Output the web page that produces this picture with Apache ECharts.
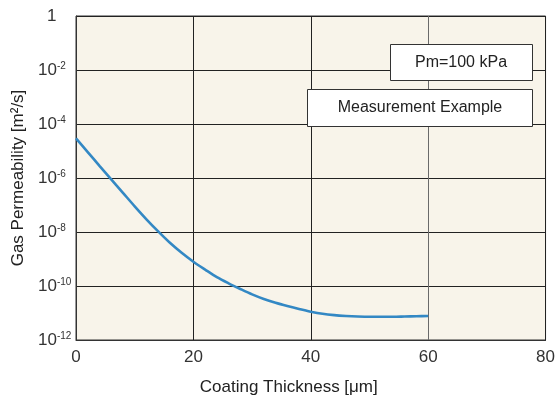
<!DOCTYPE html>
<html><head><meta charset="utf-8">
<script src="https://cdn.jsdelivr.net/npm/echarts@6/dist/echarts.min.js"></script>
<style>html,body{margin:0;padding:0;background:#fff}#c{width:558px;height:401px}</style>
</head><body><div id="c"></div>
<script>
// Coating thickness [µm]
const thickness = [0,2,4,6,8,10,12,14,16,18,20,22,24,26,28,30,32,34,36,38,40,42,44,46,48,50,52,54,56,58,60];
// Gas permeability [m²/s]
const permeability = [2.95e-5,9.12e-6,2.82e-6,8.91e-7,2.82e-7,8.91e-8,2.95e-8,1.05e-8,3.98e-9,1.70e-9,7.94e-10,4.07e-10,2.14e-10,1.26e-10,7.76e-11,4.90e-11,3.31e-11,2.40e-11,1.82e-11,1.41e-11,1.12e-11,9.33e-12,8.32e-12,7.76e-12,7.41e-12,7.24e-12,7.24e-12,7.24e-12,7.41e-12,7.59e-12,7.76e-12];
const xTicks = [0,20,40,60,80];
const yTickExponents = [0,-2,-4,-6,-8,-10,-12];
const annotations = ['Pm=100 kPa','Measurement Example'];

const FONT = "'Liberation Sans Narrow','Liberation Sans',Arial,sans-serif";
const chart = echarts.init(document.getElementById('c'), null, {renderer:'canvas'});
chart.setOption({
  animation:false,
  grid:{left:76,right:10,top:16,bottom:61,show:true,backgroundColor:'#f8f4ea',borderColor:'#333',borderWidth:1},
  xAxis:{
    type:'value',min:xTicks[0],max:xTicks[xTicks.length-1],interval:20,
    name:'Coating Thickness [\u03bcm]',nameLocation:'middle',nameGap:39,
    nameTextStyle:{fontFamily:"'Liberation Sans',Arial,sans-serif",fontSize:17,color:'#222',padding:[0,44,0,0]},
    axisLine:{show:true,lineStyle:{color:'#333',width:1}},
    axisTick:{show:false},
    axisLabel:{fontFamily:FONT,fontSize:17,color:'#333',margin:9},
    splitLine:{show:true,lineStyle:{color:['#222','#222','#222','#6a6a6a','#222'],width:1}}
  },
  yAxis:{
    type:'log',logBase:10,min:Math.pow(10,yTickExponents[6]),max:Math.pow(10,yTickExponents[0]),interval:2,
    name:'Gas Permeability [m\u00b2/s]',nameLocation:'middle',nameGap:49,
    nameTextStyle:{fontFamily:"'Liberation Sans',Arial,sans-serif",fontSize:17,color:'#222'},
    axisLine:{show:true,lineStyle:{color:'#333',width:1}},
    axisTick:{show:false},
    axisLabel:{
      margin:38,align:'left',color:'#333',
      formatter:function(v){
        const e = Math.round(Math.log10(v));
        if(e===0) return '{one|1}';
        return '{b|10}{s|'+e+'}';
      },
      rich:{
        one:{fontFamily:FONT,fontSize:17,color:'#333',padding:[0,0,0,9]},
        b:{fontFamily:FONT,fontSize:17,color:'#333'},
        s:{fontFamily:FONT,fontSize:10,color:'#333',verticalAlign:'top',padding:[0,0,8,0]}
      }
    },
    splitLine:{show:true,lineStyle:{color:'#222',width:1}}
  },
  series:[{
    type:'line',data:thickness.map((x,i)=>[x,permeability[i]]),
    smooth:0.3,showSymbol:false,
    lineStyle:{color:'#3388c4',width:2.6},
    z:5
  }],
  graphic:[
    {type:'rect',shape:{x:390.5,y:44.5,width:142,height:36},style:{fill:'#fff',stroke:'#333',lineWidth:1},z:10},
    {type:'text',x:461,y:63,style:{text:annotations[0],fontFamily:"'Liberation Sans',Arial,sans-serif",fontSize:16,fill:'#222',textAlign:'center',textVerticalAlign:'middle'},z:11},
    {type:'rect',shape:{x:307.5,y:89.5,width:225,height:37},style:{fill:'#fff',stroke:'#333',lineWidth:1},z:10},
    {type:'text',x:420,y:108,style:{text:annotations[1],fontFamily:"'Liberation Sans',Arial,sans-serif",fontSize:16,fill:'#222',textAlign:'center',textVerticalAlign:'middle'},z:11}
  ]
});
</script></body></html>
